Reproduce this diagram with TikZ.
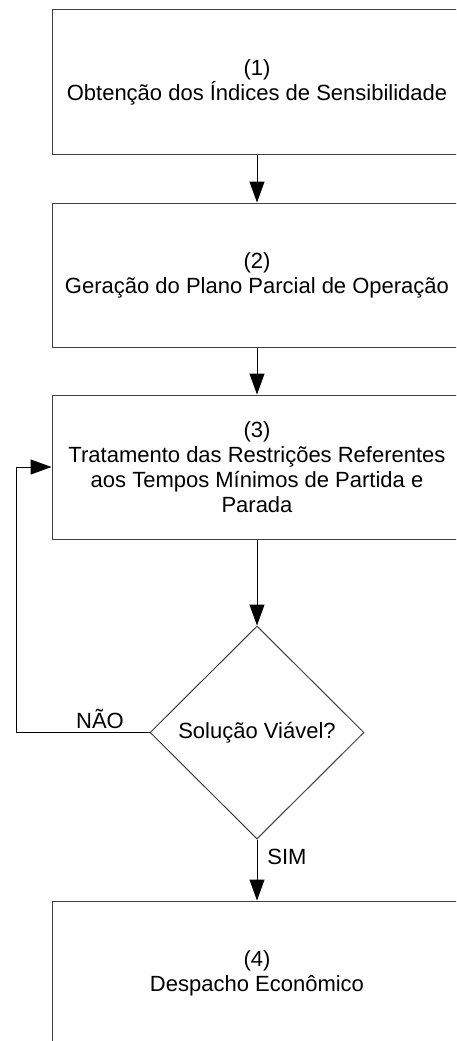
\documentclass[tikz,border=0pt]{standalone}
\usepackage{fontspec}
\setmainfont{Liberation Sans}
\usetikzlibrary{shapes.geometric,arrows.meta}
\definecolor{boxline}{HTML}{404040}
\tikzset{
  stepbox/.style={draw=boxline, line width=1pt, rectangle, minimum width=410pt, minimum height=144pt, align=center, inner sep=0pt, font=\fontsize{22}{25}\selectfont},
  decision/.style={draw=boxline, line width=1pt, diamond, minimum width=214pt, minimum height=213pt, inner sep=0pt, font=\fontsize{22}{25}\selectfont},
  flow/.style={line width=1pt, -{Triangle[width=15pt,length=21pt]}},
  lbl/.style={font=\fontsize{22}{25}\selectfont, inner sep=0pt}
}
\begin{document}
\begin{tikzpicture}[x=1pt,y=-1pt]
\clip (0,0) rectangle (456,1041);
\fill[white] (0,0) rectangle (456,1041);
\node[stepbox] (b1) at (257,82) {(1)\\Obtenção dos Índices de Sensibilidade};
\node[stepbox] (b2) at (257,275) {(2)\\Geração do Plano Parcial de Operação};
\node[stepbox] (b3) at (257,467) {(3)\\Tratamento das Restrições Referentes\\aos Tempos Mínimos de Partida e\\Parada};
\node[decision] (d) at (257,732.5) {Solução Viável?};
\node[stepbox] (b4) at (257,973) {(4)\\Despacho Econômico};
\coordinate (c1) at (16,732.5);
\coordinate (c2) at (16,467);
\draw[flow] (b1.south) -- (b2.north);
\draw[flow] (b2.south) -- (b3.north);
\draw[flow] (b3.south) -- (d.north);
\draw[flow] (d.south) -- (b4.north);
\draw[flow] (d.west) -- (c1) -- (c2) -- (b3.west);
\node[lbl] (nao) at (100,719) {NÃO};
\node[lbl] (sim) at (287,857) {SIM};
\end{tikzpicture}
\end{document}
